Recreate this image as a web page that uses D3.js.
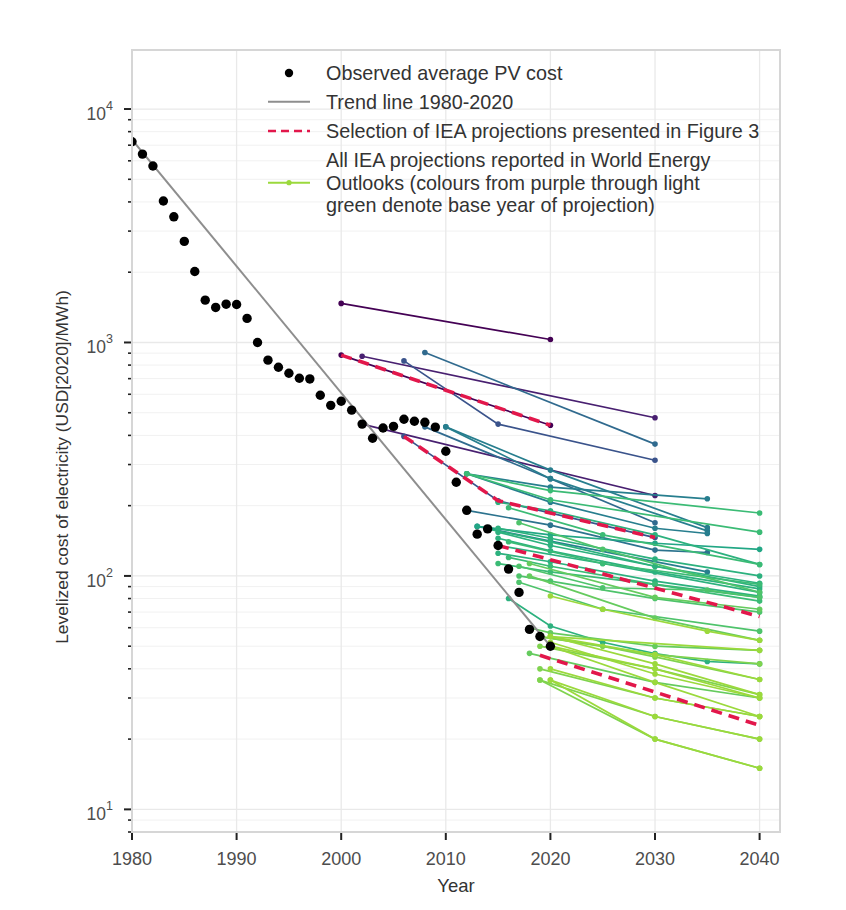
<!DOCTYPE html>
<html><head><meta charset="utf-8">
<script src="https://cdn.jsdelivr.net/npm/d3@7"></script>
<style>body{margin:0;background:#fff}svg{display:block}text{font-family:"Liberation Sans",Arial,sans-serif}</style>
</head><body><svg id="chart" width="846" height="910"></svg>
<script>
// ---------- data ----------
const obsYears = [1980,1981,1982,1983,1984,1985,1986,1987,1988,1989,1990,1991,1992,1993,1994,1995,1996,1997,1998,1999,2000,2001,2002,2003,2004,2005,2006,2007,2008,2009,2010,2011,2012,2013,2014,2015,2016,2017,2018,2019,2020];
const obsCost = [7240,6410,5700,4036,3454,2710,2014,1518,1413,1459,1455,1268,1000,840,783,738,703,698,594,538,560,513,447,389,430,437,469,460,455,434,342,252,191,151,159,135,107,85,59,55,50];

const trendYears = [1980, 2020];
const trendCost = [7400, 50];

// base year (edition) of each IEA projection (drives the colour)
const projBase = [2000,2000,2002,2002,2006,2006,2008,2008,2010,2010,
                  2010,2010,2016,2016,2009,2010,2014,2015,2015,2015,
                  2015,2015,2016,2016,2016,2016,2015,2017,2017,2017,
                  2018,2018,2018,2019,2019,2019,2019,2020,2020,2020,
                  2020,2020,2020,2020,2019,2015,2015,2017,2018,
                  2019,2020,2020,2020];
// projection points [year, cost]
const projSeries = [
  [[2000,1470],[2020,1030]],
  [[2000,883],[2020,442]],
  [[2002,873],[2030,476]],
  [[2002,447],[2030,221]],
  [[2006,834],[2015,447],[2030,313]],
  [[2006,396],[2015,210],[2030,146]],
  [[2008,906],[2030,367]],
  [[2008,435],[2020,261],[2030,169]],
  [[2010,435],[2020,284],[2035,161]],
  [[2010,435],[2020,261],[2035,156]],
  [[2012,274],[2020,207],[2030,160],[2035,152]],
  [[2012,274],[2020,240],[2035,214]],
  [[2012,274],[2020,232],[2040,186]],
  [[2012,274],[2020,212],[2040,154]],
  [[2012,191],[2020,165],[2030,129],[2035,126]],
  [[2013,163],[2020,141],[2035,104]],
  [[2013,163],[2020,150],[2030,138],[2040,130]],
  [[2015,207],[2020,190],[2030,150],[2040,112]],
  [[2015,160],[2020,145],[2030,118],[2040,100]],
  [[2015,154],[2020,135],[2030,110],[2040,93]],
  [[2015,145],[2020,128],[2030,104],[2040,88]],
  [[2015,135],[2025,113],[2040,85]],
  [[2015,113],[2020,104],[2030,92],[2040,81]],
  [[2016,196],[2025,150],[2040,112]],
  [[2016,140],[2025,113],[2040,92]],
  [[2016,120],[2020,110],[2030,92],[2040,78]],
  [[2016,80],[2020,61],[2025,52],[2030,46.5],[2035,43],[2040,42]],
  [[2017,169],[2025,130],[2040,85]],
  [[2017,110],[2025,89],[2035,87],[2040,81]],
  [[2017,94],[2025,72],[2040,58]],
  [[2018,113],[2030,81],[2040,72]],
  [[2018,100],[2030,66],[2040,53]],
  [[2018,46.6],[2030,35],[2040,30]],
  [[2019,50],[2030,40],[2040,31]],
  [[2019,40],[2030,30],[2040,25]],
  [[2019,35.8],[2030,25],[2040,20]],
  [[2019,35.8],[2030,20],[2040,15]],
  [[2020,82],[2025,72],[2035,58],[2040,53]],
  [[2020,55],[2030,46],[2040,36]],
  [[2020,50],[2030,40],[2040,30]],
  [[2020,40],[2030,30],[2040,25]],
  [[2020,35.8],[2030,20],[2040,15]],
  [[2020,35.8],[2030,25],[2040,20]],
  [[2020,55],[2040,48]],
  [[2019,55],[2030,46],[2040,42]],
  [[2014,159],[2020,140],[2030,110],[2040,90]],
  [[2015,125],[2020,115],[2030,95],[2040,82]],
  [[2017,100],[2020,95],[2030,80],[2040,70]],
  [[2018,60],[2020,57],[2030,50],[2040,48]],
  [[2019,55],[2025,50],[2030,45],[2040,36]],
  [[2020,55],[2030,42],[2040,31]],
  [[2020,52],[2030,38],[2040,30]],
  [[2020,50],[2030,35],[2040,25]]
];

// selection of IEA projections presented in Figure 3
const selSeries = [
  [[2000,883],[2020,442]],
  [[2006,396],[2015,210],[2030,146]],
  [[2015,135],[2040,67]],
  [[2019,45.7],[2040,22.9]]
];

const xTicks = [1980,1990,2000,2010,2020,2030,2040];
const yTicks = [10,100,1000,10000];
const yTickExp = ["1","2","3","4"];
const legendLabels = [
  ["Observed average PV cost"],
  ["Trend line 1980-2020"],
  ["Selection of IEA projections presented in Figure 3"],
  ["All IEA projections reported in World Energy","Outlooks (colours from purple through light","green denote base year of projection)"]
];
const xTitle = "Year";
const yTitle = "Levelized cost of electricity (USD[2020]/MWh)";

// ---------- drawing ----------
const svg = d3.select("#chart");
const L = 132, R = 780, T = 50, B = 832;
const x = d3.scaleLinear().domain([1980, 2041.95]).range([L, R]);
const y = d3.scaleLog().domain([8, 17900]).range([B, T]);
const col = yr => d3.interpolateViridis((yr - 2000) / 20 * 0.85);

svg.append("rect").attr("width",846).attr("height",910).attr("fill","#fff");

// minor log ticks
const minorVals = [];
[1,10,100,1000,10000].forEach(d => { for (let k = 1; k <= 9; k++) { const v = d*k; if (v >= 8 && v <= 17900) minorVals.push(v); } });

const grid = svg.append("g");
grid.selectAll("line.hmin").data(minorVals.filter(v => !yTicks.includes(v))).join("line")
  .attr("x1",L).attr("x2",R).attr("y1",d=>y(d)).attr("y2",d=>y(d))
  .attr("stroke","#f1f1f1").attr("stroke-width",1);
grid.selectAll("line.hmaj").data(yTicks).join("line")
  .attr("x1",L).attr("x2",R).attr("y1",d=>y(d)).attr("y2",d=>y(d))
  .attr("stroke","#e9e9e9").attr("stroke-width",1.3);
grid.selectAll("line.vmaj").data(xTicks).join("line")
  .attr("x1",d=>x(d)).attr("x2",d=>x(d)).attr("y1",T).attr("y2",B)
  .attr("stroke","#e9e9e9").attr("stroke-width",1.3);

// clip
svg.append("clipPath").attr("id","clip").append("rect").attr("x",L).attr("y",T).attr("width",R-L).attr("height",B-T);
const plot = svg.append("g").attr("clip-path","url(#clip)");

const line = d3.line().x(d=>x(d[0])).y(d=>y(d[1]));

// projections
const order = d3.range(projSeries.length).sort((a,b)=>projBase[a]-projBase[b]);
order.forEach(i => {
  const g = plot.append("g");
  g.append("path").attr("d", line(projSeries[i])).attr("fill","none")
    .attr("stroke", col(projBase[i])).attr("stroke-width",1.7);
  g.selectAll("circle").data(projSeries[i]).join("circle")
    .attr("cx",d=>x(d[0])).attr("cy",d=>y(d[1])).attr("r",2.8).attr("fill",col(projBase[i]));
});

// trend
plot.append("path").attr("d", line(trendYears.map((t,i)=>[t,trendCost[i]])))
  .attr("fill","none").attr("stroke","#8e8e8e").attr("stroke-width",2);

// selection
selSeries.forEach(s => {
  plot.append("path").attr("d", line(s)).attr("fill","none")
    .attr("stroke","#e2174b").attr("stroke-width",3.6).attr("stroke-dasharray","11,7");
});

// observed
plot.selectAll("circle.obs").data(obsYears).join("circle")
  .attr("cx",d=>x(d)).attr("cy",(d,i)=>y(obsCost[i])).attr("r",4.7).attr("fill","#000");

// panel border
svg.append("rect").attr("x",L).attr("y",T).attr("width",R-L).attr("height",B-T)
  .attr("fill","none").attr("stroke","#d6d6d6").attr("stroke-width",2);

// axes ticks
const ax = svg.append("g");
ax.selectAll("line.ym").data(minorVals).join("line")
  .attr("x1",d=>yTicks.includes(d)?L-8:L-4).attr("x2",L-1).attr("y1",d=>y(d)).attr("y2",d=>y(d))
  .attr("stroke","#222").attr("stroke-width",d=>yTicks.includes(d)?2:1.6);
ax.selectAll("line.xt").data(xTicks).join("line")
  .attr("x1",d=>x(d)).attr("x2",d=>x(d)).attr("y1",B+1).attr("y2",B+8)
  .attr("stroke","#222").attr("stroke-width",2);

// tick labels
ax.selectAll("text.xl").data(xTicks).join("text")
  .attr("x",d=>x(d)).attr("y",865).attr("text-anchor","middle")
  .attr("font-size",18).attr("fill","#4d4d4d").text(d=>d);
const yl = ax.selectAll("text.yl").data(yTicks).join("text")
  .attr("x",113).attr("y",d=>y(d)+11).attr("text-anchor","end").attr("fill","#4d4d4d");
yl.append("tspan").attr("font-size",17.5).text("10");
yl.append("tspan").attr("font-size",12.5).attr("dy",-10).text((d,i)=>yTickExp[i]);

// axis titles
svg.append("text").attr("x",(L+R)/2).attr("y",892).attr("text-anchor","middle")
  .attr("font-size",18.5).attr("fill","#333").text(xTitle);
svg.append("text").attr("transform","translate(68,467) rotate(-90)").attr("text-anchor","middle")
  .attr("font-size",17.4).attr("fill","#333").text(yTitle);

// legend
const lg = svg.append("g");
const rowsY = [[73],[101.7],[131],[160,182.7,205]];
const symY = [73,101.7,131,182.7];
const lx1 = 268, lx2 = 310, tx = 326;
lg.append("circle").attr("cx",(lx1+lx2)/2).attr("cy",symY[0]).attr("r",4.2).attr("fill","#000");
lg.append("line").attr("x1",lx1).attr("x2",lx2).attr("y1",symY[1]).attr("y2",symY[1]).attr("stroke","#8e8e8e").attr("stroke-width",2);
lg.append("line").attr("x1",lx1).attr("x2",lx2).attr("y1",symY[2]).attr("y2",symY[2]).attr("stroke","#e2174b").attr("stroke-width",2.6).attr("stroke-dasharray","8,5");
lg.append("line").attr("x1",lx1).attr("x2",lx2).attr("y1",symY[3]).attr("y2",symY[3]).attr("stroke",col(2020)).attr("stroke-width",2);
lg.append("circle").attr("cx",(lx1+lx2)/2).attr("cy",symY[3]).attr("r",2.6).attr("fill",col(2020));
legendLabels.forEach((lines,i) => {
  lines.forEach((t,j) => {
    lg.append("text").attr("x",tx).attr("y",rowsY[i][j]+7).attr("font-size",19.8).attr("fill","#333").text(t);
  });
});
</script></body></html>
